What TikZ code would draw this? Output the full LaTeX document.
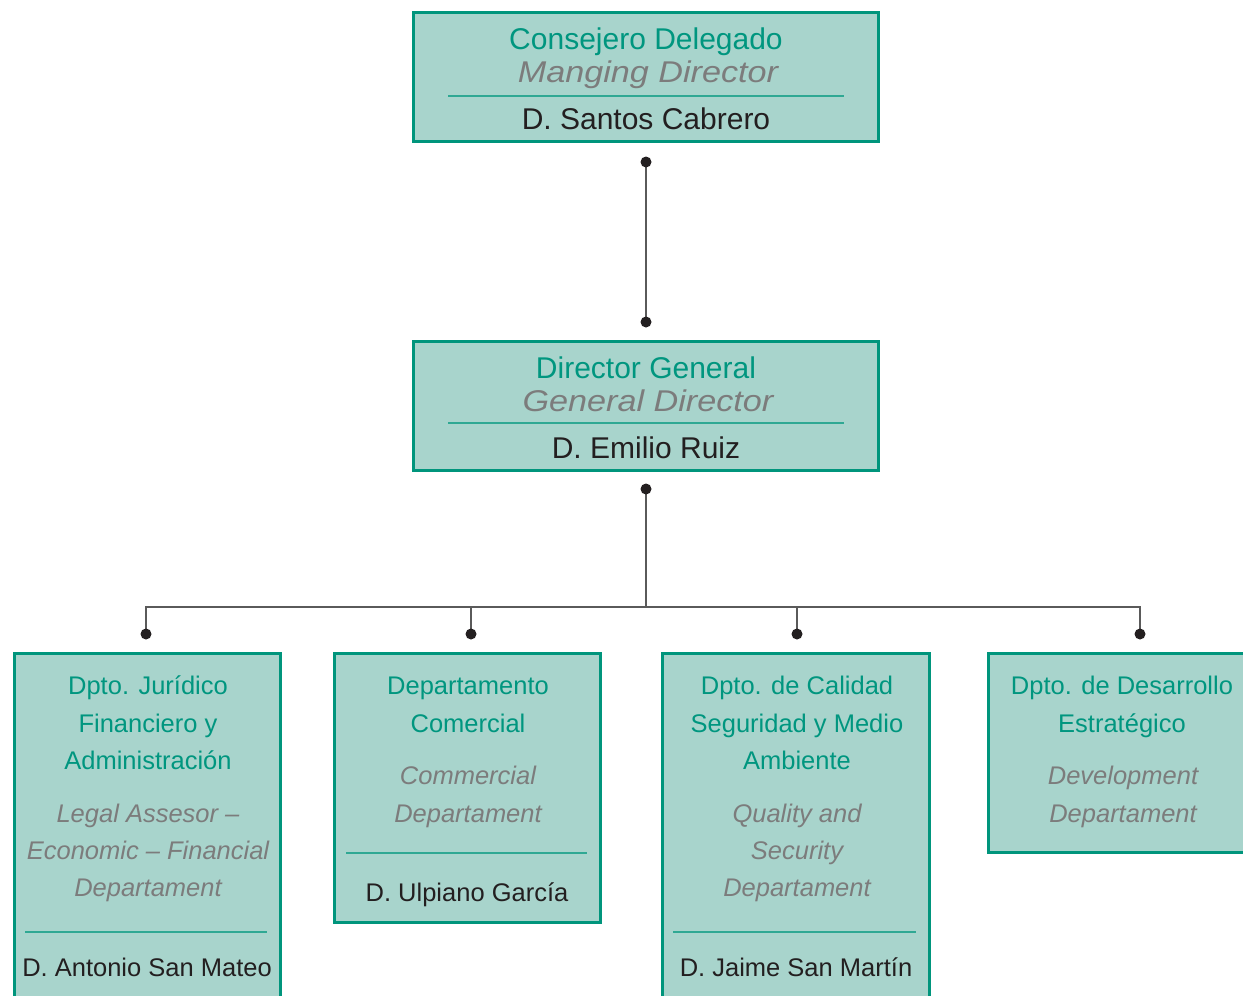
\documentclass[tikz,border=0pt]{standalone}
\usepackage{fontspec}
\setmainfont{Liberation Sans}
\newfontfamily\wideit[FakeStretch=1.14]{Liberation Sans}
\definecolor{boxfill}{HTML}{A8D4CC}
\definecolor{boxedge}{HTML}{00957C}
\definecolor{tealtxt}{HTML}{00967F}
\definecolor{graytxt}{HTML}{7C7C7C}
\definecolor{nametxt}{HTML}{231F20}
\definecolor{sepline}{HTML}{2FA893}
\definecolor{conn}{HTML}{5A5A5A}
\tikzset{
  box/.style={draw=boxedge, fill=boxfill, line width=3pt, rectangle, inner sep=0pt, outer sep=0pt},
  big/.style={font=\fontsize{30}{36}\selectfont},
  bigit/.style={font=\fontsize{30}{36}\selectfont\wideit\itshape},
  small/.style={font=\fontsize{25.5}{30}\selectfont},
  ttl/.style={text=tealtxt, anchor=base, inner sep=0pt},
  itl/.style={text=graytxt, anchor=base, inner sep=0pt},
  nm/.style={text=nametxt, anchor=base, inner sep=0pt},
  sep/.style={draw=sepline, line width=1.2pt},
  conline/.style={draw=conn, line width=1.4pt},
  dot/.style={circle, fill=nametxt, minimum size=11pt, inner sep=0pt, outer sep=0pt},
}
\begin{document}
\begin{tikzpicture}[x=1pt,y=-1pt]
\useasboundingbox (0,0) rectangle (1243,996);
\clip (0,0) rectangle (1243,996);

% ---- boxes ----
\node[box, minimum width=465pt, minimum height=129pt] (ceo) at (646,77) {};
\node[box, minimum width=465pt, minimum height=129pt] (gd) at (646,406) {};
\node[box, minimum width=266pt, minimum height=356.5pt] (b1) at (147.5,831.75) {};
\node[box, minimum width=266pt, minimum height=269pt] (b2) at (467.5,788) {};
\node[box, minimum width=267pt, minimum height=356.5pt] (b3) at (796,831.75) {};
\node[box, minimum width=267pt, minimum height=199pt] (b4) at (1122,753) {};

% ---- top box text ----
\node[ttl, big] (ceo1) at (646,49) {Consejero Delegado};
\node[itl, bigit] (ceo2) at (648,82) {Manging Director};
\draw[sep] (448,96) -- (844,96);
\node[nm, big] (ceo3) at (646,129) {D. Santos Cabrero};

% ---- middle box text ----
\node[ttl, big] (gd1) at (646,378) {Director General};
\node[itl, bigit] (gd2) at (648,411) {General Director};
\draw[sep] (448,423) -- (844,423);
\node[nm, big] (gd3) at (646,458) {D. Emilio Ruiz};

% ---- box 1 ----
\node[ttl, small] (b1a) at (148,694) {Dpto. Jurídico};
\node[ttl, small] (b1b) at (148,732) {Financiero y};
\node[ttl, small] (b1c) at (148,769) {Administración};
\node[itl, small] (b1d) at (148,822) {\itshape Legal Assesor –};
\node[itl, small] (b1e) at (148,859) {\itshape Economic – Financial};
\node[itl, small] (b1f) at (148,896) {\itshape Departament};
\draw[sep] (25,932) -- (267,932);
\node[nm, small] (b1g) at (147,976) {D. Antonio San Mateo};

% ---- box 2 ----
\node[ttl, small] (b2a) at (468,694) {Departamento};
\node[ttl, small] (b2b) at (468,732) {Comercial};
\node[itl, small] (b2c) at (468,784) {\itshape Commercial};
\node[itl, small] (b2d) at (468,822) {\itshape Departament};
\draw[sep] (346,853) -- (587,853);
\node[nm, small] (b2e) at (467,901) {D. Ulpiano García};

% ---- box 3 ----
\node[ttl, small] (b3a) at (797,694) {Dpto. de Calidad};
\node[ttl, small] (b3b) at (797,732) {Seguridad y Medio};
\node[ttl, small] (b3c) at (797,769) {Ambiente};
\node[itl, small] (b3d) at (797,822) {\itshape Quality and};
\node[itl, small] (b3e) at (797,859) {\itshape Security};
\node[itl, small] (b3f) at (797,896) {\itshape Departament};
\draw[sep] (673,932) -- (916,932);
\node[nm, small] (b3g) at (796,976) {D. Jaime San Martín};

% ---- box 4 ----
\node[ttl, small] (b4a) at (1122,694) {Dpto. de Desarrollo};
\node[ttl, small] (b4b) at (1122,732) {Estratégico};
\node[itl, small] (b4c) at (1123,784) {\itshape Development};
\node[itl, small] (b4d) at (1123,822) {\itshape Departament};

% ---- connectors ----
\coordinate (j) at (646,607);
\draw[conline] (646,162) coordinate (c1) -- (646,322) coordinate (c2);
\draw[conline] (646,489) coordinate (c3) -- (j);
\draw[conline] (146,634) coordinate (c4) |- (j) -| (1140,634) coordinate (c7);
\draw[conline] (471,634) coordinate (c5) -- (c5 |- j);
\draw[conline] (797,634) coordinate (c6) -- (c6 |- j);
\foreach \c in {c1,c2,c3,c4,c5,c6,c7}
  \node[dot] (dot-\c) at (\c) {};
\end{tikzpicture}
\end{document}
